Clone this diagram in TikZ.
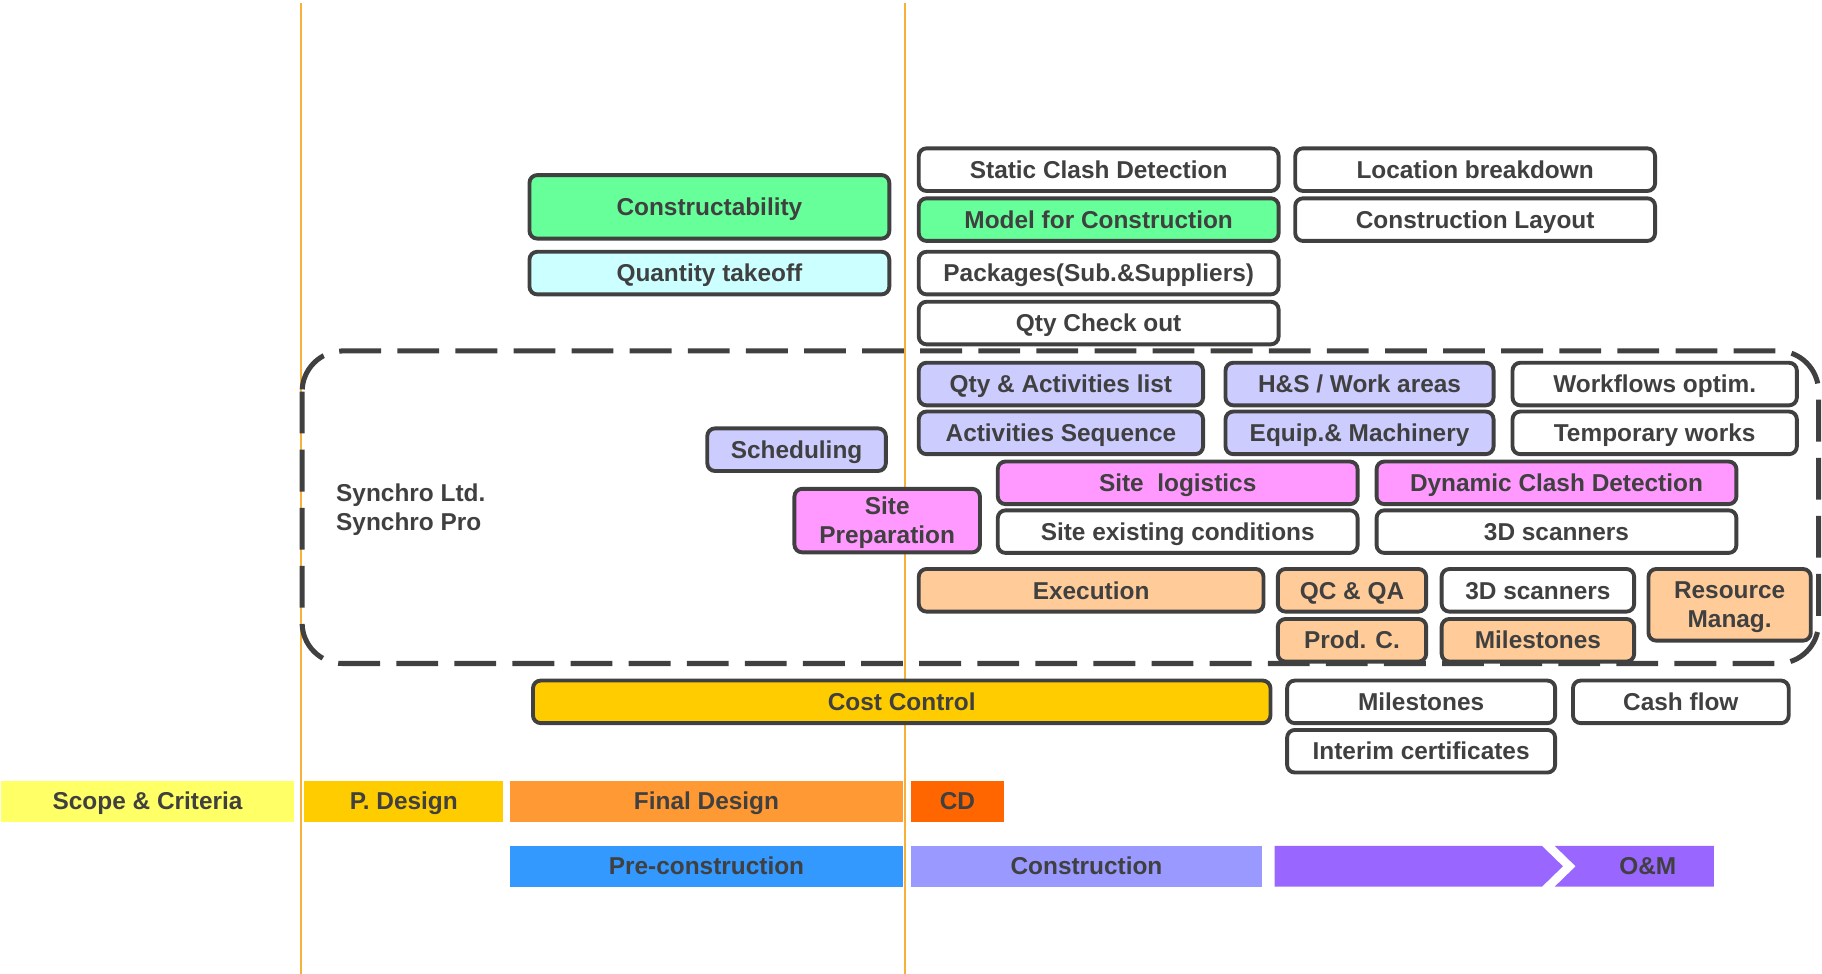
\documentclass[tikz,border=0pt]{standalone}
\usepackage{fontspec}
\setmainfont{Liberation Sans}
\definecolor{ink}{HTML}{404040}
\definecolor{guide}{HTML}{F7B03A}
\definecolor{mintfill}{HTML}{66FF99}
\definecolor{aquafill}{HTML}{CCFFFF}
\definecolor{lilacfill}{HTML}{CCCCFF}
\definecolor{rosefill}{HTML}{FF99FF}
\definecolor{peachfill}{HTML}{FFCC99}
\definecolor{goldfill}{HTML}{FFCC00}
\definecolor{scopefill}{HTML}{FFFF66}
\definecolor{finalfill}{HTML}{FF9933}
\definecolor{cdfill}{HTML}{FF6600}
\definecolor{prefill}{HTML}{3399FF}
\definecolor{buildfill}{HTML}{9999FF}
\definecolor{omfill}{HTML}{9966FF}
\newcommand{\cardfont}{\fontsize{12.6pt}{15pt}\selectfont\bfseries}
\tikzset{
  card/.style = {draw=ink, line width=2pt, rounded corners=4pt, fill=white,
    text=ink, font=\cardfont, inner sep=0pt, align=center,
    minimum height=22pt, text height=10.5pt, text depth=1.5pt},
  twoline/.style = {text height=, text depth=0pt},
  tall/.style = {minimum height=#1*0.6pt-2pt},
  wide/.style = {minimum width=#1*0.6pt-2pt},
  band/.style = {text=ink, font=\cardfont, inner sep=0pt,
    minimum height=21pt, text height=10.5pt, text depth=1.5pt},
  bandwide/.style = {minimum width=#1*0.6pt},
  toolbox/.style = {draw=ink, line width=2.6pt, rounded corners=21pt,
    dash pattern=on 21.6pt off 8.4pt},
  guideline/.style = {draw=guide, line width=0.8pt}
}
\begin{document}
\begin{tikzpicture}[x=0.6pt, y=-0.6pt]
\useasboundingbox (0,0) rectangle (1568,838);
% phase limits
\coordinate (g1a) at (259,3);   \coordinate (g1b) at (259,838);
\coordinate (g2a) at (779,3);   \coordinate (g2b) at (779,838);
\draw[guideline] (g1a) -- (g1b);
\draw[guideline] (g2a) -- (g2b);
% Synchro area
\draw[toolbox] (260,302) rectangle (1565,571);
\node[text=ink, font=\cardfont, align=left, anchor=west, inner sep=0pt]
  (synchro) at (289,439) {Synchro Ltd.\\Synchro Pro};
% design
\node[card, fill=mintfill, wide=313, tall=58] (constr) at (610.5,178) {Constructability};
\node[card, fill=aquafill, wide=313] (takeoff) at (610.5,235) {Quantity takeoff};
% pre-construction
\node[card, wide=313] (static) at (945.5,146) {Static Clash Detection};
\node[card, fill=mintfill, wide=313] (model) at (945.5,189) {Model for Construction};
\node[card, wide=313] (packages) at (945.5,235) {Packages(Sub.\&Suppliers)};
\node[card, wide=313] (check) at (945.5,278) {Qty Check out};
\node[card, wide=313] (location) at (1269.5,146) {Location breakdown};
\node[card, wide=313] (layout) at (1269.5,189) {Construction Layout};
% planning
\node[card, fill=lilacfill, wide=248] (qtyact) at (913,330.5) {Qty \& Activities list};
\node[card, fill=lilacfill, wide=234] (hs) at (1170,330.5) {H\&S / Work areas};
\node[card, wide=248] (workflow) at (1424,330.5) {Workflows optim.};
\node[card, fill=lilacfill, wide=157] (sched) at (685.5,387) {Scheduling};
\node[card, fill=lilacfill, wide=248] (actseq) at (913,372.5) {Activities Sequence};
\node[card, fill=lilacfill, wide=234] (equip) at (1170,372.5) {Equip.\& Machinery};
\node[card, wide=248] (temp) at (1424,372.5) {Temporary works};
% site
\node[card, twoline, fill=rosefill, wide=163, tall=58] (siteprep) at (763.5,448) {Site\\Preparation};
\node[card, fill=rosefill, wide=313] (sitelog) at (1013.5,415.5) {Site~~logistics};
\node[card, fill=rosefill, wide=313] (dynclash) at (1339.5,415.5) {Dynamic Clash Detection};
\node[card, wide=313] (existing) at (1013.5,457.5) {Site existing conditions};
\node[card, wide=313] (scanA) at (1339.5,457.5) {3D scanners};
% execution
\node[card, fill=peachfill, wide=300] (exec) at (939,508) {Execution};
\node[card, fill=peachfill, wide=131] (qcqa) at (1163.5,508) {QC \& QA};
\node[card, wide=169] (scanB) at (1323.5,508) {3D scanners};
\node[card, twoline, fill=peachfill, wide=143, tall=65] (resource) at (1488.5,520.5) {Resource\\Manag.};
\node[card, fill=peachfill, wide=131] (prodc) at (1163.5,551) {Prod. C.};
\node[card, fill=peachfill, wide=169] (milesA) at (1323.5,551) {Milestones};
% cost
\node[card, fill=goldfill, wide=638] (cost) at (776,604) {Cost Control};
\node[card, wide=234] (milesB) at (1223,604) {Milestones};
\node[card, wide=189] (cash) at (1446.5,604) {Cash flow};
\node[card, wide=234] (interim) at (1223,646.5) {Interim certificates};
% phases
\node[band, fill=scopefill, bandwide=252] (scope) at (127,689.5) {Scope \& Criteria};
\node[band, fill=goldfill, bandwide=171] (pdesign) at (347.5,689.5) {P. Design};
\node[band, fill=finalfill, bandwide=338] (final) at (608,689.5) {Final Design};
\node[band, fill=cdfill, bandwide=80] (cd) at (824,689.5) {CD};
\node[band, fill=prefill, bandwide=338] (precon) at (608,745.5) {Pre-construction};
\node[band, fill=buildfill, bandwide=302] (build) at (935,745.5) {Construction};
\fill[omfill] (1097,728) -- (1327,728) -- (1345,745.5) -- (1327,763) -- (1097,763) -- cycle;
\fill[omfill] (1338,728) -- (1475,728) -- (1475,763) -- (1338,763) -- (1356,745.5) -- cycle;
\node[band] (om) at (1418,745.5) {O\&M};
\end{tikzpicture}
\end{document}
